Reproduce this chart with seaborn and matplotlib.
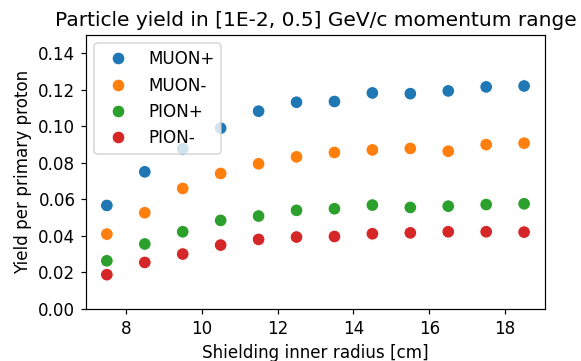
import matplotlib
matplotlib.use("Agg")
import matplotlib.pyplot as plt
import seaborn as sns
import pandas as pd

radius = [7.5, 8.5, 9.5, 10.5, 11.5, 12.5, 13.5, 14.5, 15.5, 16.5, 17.5, 18.5]
muon_plus = [0.0567, 0.0751, 0.0877, 0.0990, 0.1083, 0.1132, 0.1136, 0.1183, 0.1179, 0.1194, 0.1216, 0.1221]
muon_minus = [0.0410, 0.0527, 0.0660, 0.0742, 0.0795, 0.0833, 0.0857, 0.0871, 0.0879, 0.0864, 0.0900, 0.0908]
pion_plus = [0.0264, 0.0356, 0.0423, 0.0485, 0.0509, 0.0540, 0.0549, 0.0569, 0.0556, 0.0563, 0.0572, 0.0576]
pion_minus = [0.0188, 0.0255, 0.0301, 0.0350, 0.0381, 0.0394, 0.0397, 0.0412, 0.0417, 0.0423, 0.0423, 0.0421]
labels = ["MUON+", "MUON-", "PION+", "PION-"]

rows = []
for lab, vals in zip(labels, [muon_plus, muon_minus, pion_plus, pion_minus]):
    for r, v in zip(radius, vals):
        rows.append({"radius": r, "yield": v, "particle": lab})
df = pd.DataFrame(rows)

plt.rcParams["font.size"] = 11.2

DPI = 108
fig, ax = plt.subplots(figsize=(581 / DPI, 361 / DPI), dpi=DPI)
sns.scatterplot(data=df, x="radius", y="yield", hue="particle", s=72, ax=ax)
ax.set_ylim(0, 0.15)
ax.set_yticks([0.0, 0.02, 0.04, 0.06, 0.08, 0.10, 0.12, 0.14])
ax.set_xlabel("Shielding inner radius [cm]")
ax.set_ylabel("Yield per primary proton")
ax.set_title("Particle yield in [1E-2, 0.5] GeV/c momentum range")
leg = ax.legend(loc="upper left")
fig.subplots_adjust(left=0.148, right=0.938, top=0.903, bottom=0.144)
fig.savefig("out.png", dpi=DPI)
